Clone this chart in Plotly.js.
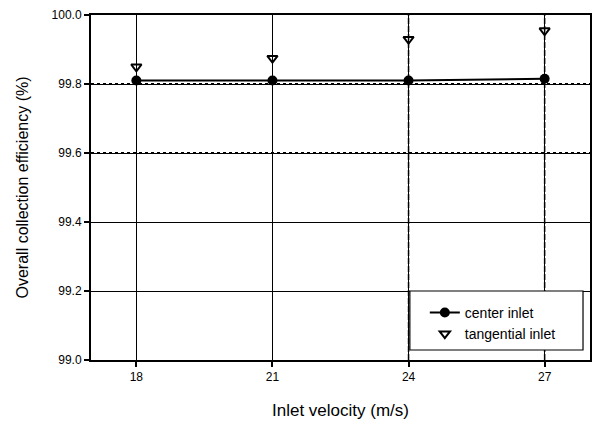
<!DOCTYPE html>
<html><head><meta charset="utf-8">
<script src="https://cdn.plot.ly/plotly-3.0.1.min.js"></script>
<style>body{margin:0;background:#fff}#c{width:595px;height:421px}</style>
</head><body><div id="c"></div>
<script>
const velocity = [18, 21, 24, 27];
const centerInlet = [99.81, 99.81, 99.81, 99.815];
const tangentialInlet = [99.85, 99.875, 99.93, 99.955];
const xTicks = [18, 21, 24, 27];
const yTicks = [99.0, 99.2, 99.4, 99.6, 99.8, 100.0];

const traces = [
  {x: velocity, y: centerInlet, name: 'center inlet', mode: 'lines+markers',
   line: {color: '#000', width: 2}, marker: {symbol: 'circle', size: 10, color: '#000'}},
  {x: velocity, y: tangentialInlet, name: 'tangential inlet', mode: 'markers',
   marker: {symbol: 'triangle-down-open', size: 9, color: '#000', line: {width: 2, color: '#000'}}}
];

const shapes = [];
[99.6, 99.8].forEach(v => shapes.push({type: 'line', xref: 'paper', x0: 0, x1: 1, yref: 'y', y0: v, y1: v,
  line: {color: '#000', width: 2, dash: 'dot'}, layer: 'below'}));
[24, 27].forEach(v => shapes.push({type: 'line', xref: 'x', x0: v, x1: v, yref: 'paper', y0: 0, y1: 1,
  line: {color: '#000', width: 1.5, dash: '6px,2px'}, layer: 'below'}));
// legend frame
shapes.push({type: 'rect', xref: 'paper', yref: 'paper', x0: 0.639, x1: 0.986, y0: 0.029, y1: 0.2,
  fillcolor: '#fff', line: {color: '#000', width: 1.2}, layer: 'above'});

const layout = {
  width: 595, height: 421,
  margin: {l: 91, r: 5, t: 15, b: 61},
  paper_bgcolor: '#fff', plot_bgcolor: '#fff',
  font: {family: 'Liberation Sans, Arial, sans-serif', color: '#000', size: 12},
  showlegend: true,
  legend: {x: 0.669, y: 0.183, xanchor: 'left', yanchor: 'top', bgcolor: 'rgba(0,0,0,0)',
    borderwidth: 0, font: {size: 14}},
  xaxis: {range: [17, 28], tickvals: xTicks, ticktext: xTicks.map(String), automargin: false,
    showgrid: true, gridcolor: '#000', gridwidth: 1, zeroline: false,
    showline: true, mirror: true, linecolor: '#000', linewidth: 2,
    ticks: 'outside', ticklen: 5, tickwidth: 2, tickcolor: '#000',
    title: {text: 'Inlet velocity (m/s)', font: {size: 17}, standoff: 21}},
  yaxis: {range: [99.0, 100.0], tickvals: yTicks, ticktext: yTicks.map(v => v.toFixed(1)), automargin: false,
    showgrid: true, gridcolor: '#000', gridwidth: 1, zeroline: false,
    showline: true, mirror: true, linecolor: '#000', linewidth: 2,
    ticks: 'outside', ticklen: 5, tickwidth: 2, tickcolor: '#000',
    title: {text: 'Overall collection efficiency (%)', font: {size: 16}, standoff: 19}},
  shapes: shapes
};
Plotly.newPlot('c', traces, layout, {displayModeBar: false, staticPlot: true});
</script></body></html>
